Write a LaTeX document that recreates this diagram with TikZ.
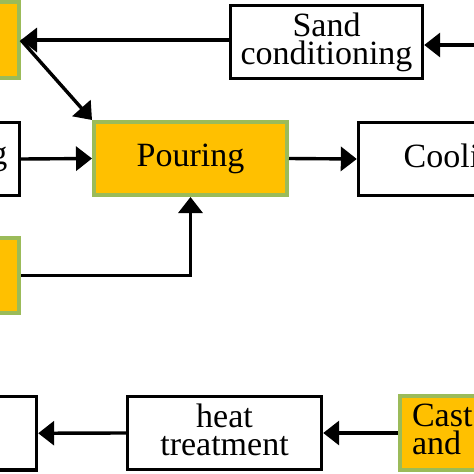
\documentclass[tikz,border=0pt]{standalone}
\usepackage{fontspec}
\setmainfont{Liberation Serif}
\usetikzlibrary{arrows.meta}
\definecolor{boxorange}{HTML}{FFC000}
\definecolor{boxgreen}{HTML}{9BBB59}
\tikzset{
  base/.style={rectangle, inner sep=0pt, align=center,
    font=\fontsize{34}{28}\selectfont},
  whitebox/.style={base, draw=black, line width=3.4pt, fill=white},
  orangebox/.style={base, draw=boxgreen, line width=4pt, fill=boxorange},
  flow/.style={line width=3.4pt, -{Triangle[length=16pt,width=24pt]}},
}
\begin{document}
\begin{tikzpicture}[x=1pt,y=-1pt]
\useasboundingbox (0,0) rectangle (474,474);
\clip (0,0) rectangle (474,474);
\fill[white] (0,0) rectangle (474,474);
% nodes
\node[orangebox, minimum width=169pt, minimum height=76pt] (A) at (-65.5,40) {};
\node[whitebox, minimum width=192pt, minimum height=73pt] (S) at (326.5,42) {Sand\\conditioning\vphantom{g}};
\node[whitebox, minimum width=169.5pt, minimum height=73pt, inner xsep=12pt, text width=145.5pt, align=right] (M) at (-65.25,159) {g};
\node[orangebox, minimum width=193pt, minimum height=73pt] (P) at (190.5,158.5) {Pouring};
\node[whitebox, minimum width=200pt, minimum height=73pt] (C) at (458.5,159) {Cooling};
\node[orangebox, minimum width=169pt, minimum height=75pt] (B) at (-65.5,275.5) {};
\node[whitebox, minimum width=186.5pt, minimum height=73.5pt] (F) at (-56.75,433.25) {};
\node[whitebox, minimum width=194pt, minimum height=73pt] (H) at (224.5,433) {heat\\treatment\vphantom{g}};
\node[orangebox, minimum width=200pt, minimum height=74pt, inner xsep=12pt, text width=176pt, align=left] (K) at (500,433) {Cast\\and\vphantom{g}};
\coordinate (in) at (520,45);
% connectors
\draw[flow] (in) -- (in -| S.east);
\draw[flow] (S.west |- A.east) -- (A.east);
\draw[flow] (A.east) -- (P.north west);
\draw[flow] (M.east) -- (P.west);
\draw[flow] (P.east) -- (C.west);
\draw[flow] (B.east) -| (P.south);
\draw[flow] (K.west) -- (H.east);
\draw[flow] (H.west) -- (F.east);
\end{tikzpicture}
\end{document}
